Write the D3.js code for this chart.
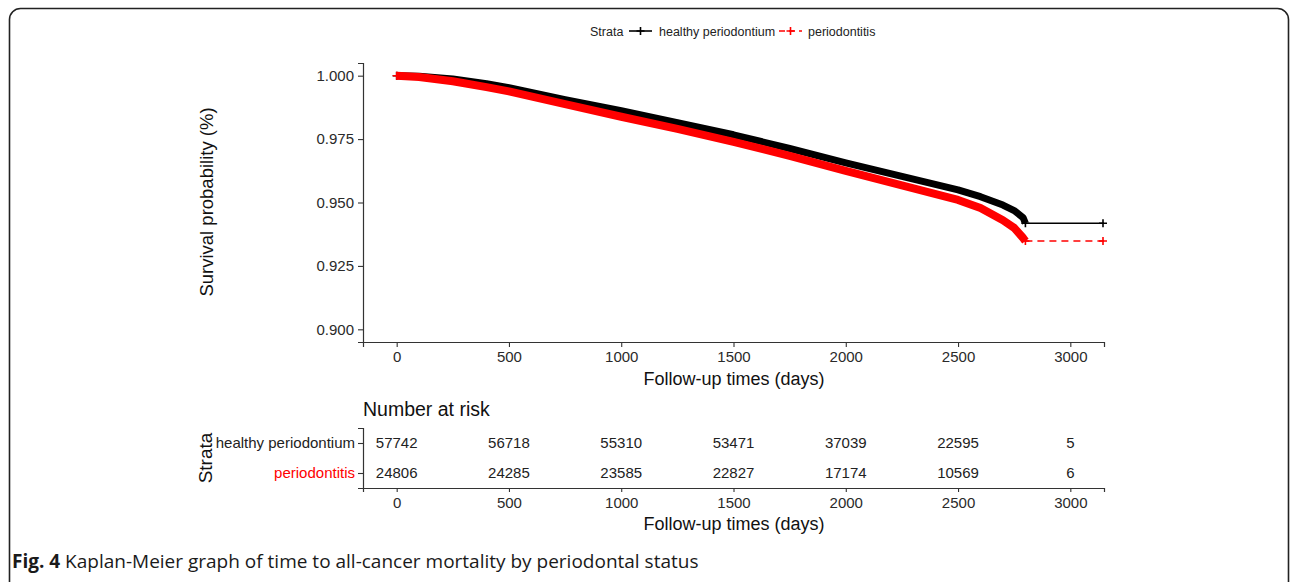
<!DOCTYPE html>
<html>
<head>
<meta charset="utf-8">
<script src="https://cdn.jsdelivr.net/npm/d3@7"></script>
<style>
  body { margin: 0; background: #fff; }
  svg text { font-family: "Liberation Sans", Arial, sans-serif; }
</style>
</head>
<body>
<svg id="chart" width="1292" height="582"></svg>
<script>
// survival curves (days, probability)
const healthyTimes = [0, 100, 250, 400, 500, 750, 1000, 1250, 1500, 1750, 2000, 2250, 2500, 2600, 2700, 2750, 2790, 2800]
const healthySurv  = [1.000, 0.9998, 0.9987, 0.9968, 0.9953, 0.9905, 0.9862, 0.9815, 0.9767, 0.9713, 0.9656, 0.9603, 0.9550, 0.9523, 0.9490, 0.9468, 0.9440, 0.9418]
const perioTimes   = [0, 100, 250, 400, 500, 750, 1000, 1250, 1500, 1750, 2000, 2250, 2500, 2600, 2700, 2750, 2790, 2800]
const perioSurv    = [1.000, 0.9995, 0.9978, 0.9955, 0.9938, 0.9888, 0.9838, 0.9790, 0.9739, 0.9684, 0.9625, 0.9568, 0.9510, 0.9478, 0.9430, 0.9400, 0.9360, 0.9348]
const lastTime = 3150

const strata = ["healthy periodontium", "periodontitis"]
const strataColors = ["#000000", "#ff0000"]
const xTicks = [0, 500, 1000, 1500, 2000, 2500, 3000]
const yTicks = [0.900, 0.925, 0.950, 0.975, 1.000]
const riskHealthy = [57742, 56718, 55310, 53471, 37039, 22595, 5]
const riskPerio   = [24806, 24285, 23585, 22827, 17174, 10569, 6]

const svg = d3.select("#chart")

// frame round the figure
svg.append("rect")
    .attr("x", 9.5).attr("y", 8.5)
    .attr("width", 1279).attr("height", 600)
    .attr("rx", 11)
    .attr("fill", "none").attr("stroke", "#222").attr("stroke-width", 1.6)

var xScale = d3.scaleLinear().domain([-150, 3150]).range([363, 1104])
var yScale = d3.scaleLinear().domain([0.895, 1.005]).range([342, 63])

function styleAxis(g) {
    g.select(".domain").attr("stroke", "#333").attr("stroke-width", 1.2)
    g.selectAll(".tick line").attr("stroke", "#333").attr("stroke-width", 1.1)
    g.selectAll(".tick text").attr("fill", "#2a2a2a").style("font-size", "15px")
}

// axes of main plot
const yAxis = svg.append("g").attr("transform", "translate(363,0)")
    .call(d3.axisLeft(yScale).tickValues(yTicks).tickFormat(d3.format(".3f")).tickSizeOuter(0).tickSize(5).tickPadding(4))
const xAxis = svg.append("g").attr("transform", "translate(0,342)")
    .call(d3.axisBottom(xScale).tickValues(xTicks).tickFormat(d3.format("d")).tickSizeOuter(0).tickSize(5).tickPadding(4))
styleAxis(yAxis)
styleAxis(xAxis)

svg.append("text")
    .attr("transform", "translate(213,202) rotate(-90)")
    .attr("text-anchor", "middle")
    .style("font-size", "18.5px").attr("fill", "#111")
    .text("Survival probability (%)")
svg.append("text")
    .attr("x", 734).attr("y", 385)
    .attr("text-anchor", "middle")
    .style("font-size", "18px").attr("fill", "#111")
    .text("Follow-up times (days)")

// curves
const bandLine = d3.line()
    .x(function(d) { return xScale(d[0]) })
    .y(function(d) { return yScale(d[1]) })

function plus(g, x, y, color, size) {
    g.append("path")
        .attr("d", "M" + (x - size) + "," + y + "H" + (x + size) + "M" + x + "," + (y - size) + "V" + (y + size))
        .attr("stroke", color).attr("stroke-width", 1.6)
}

const series = [
    {times: healthyTimes, surv: healthySurv, color: strataColors[0], band: 7, dash: null},
    {times: perioTimes, surv: perioSurv, color: strataColors[1], band: 8, dash: "7,5"}
]
series.forEach(function(s) {
    const pts = s.times.map(function(t, i) { return [t, s.surv[i]] })
    const g = svg.append("g")
    g.append("path")
        .attr("d", bandLine(pts))
        .attr("fill", "none")
        .attr("stroke", s.color)
        .attr("stroke-width", s.band)
        .attr("stroke-linejoin", "round")
        .attr("stroke-linecap", "butt")
    const last = pts[pts.length - 1]
    g.append("line")
        .attr("x1", xScale(last[0])).attr("x2", xScale(lastTime))
        .attr("y1", yScale(last[1])).attr("y2", yScale(last[1]))
        .attr("stroke", s.color).attr("stroke-width", 1.5)
        .attr("stroke-dasharray", s.dash)
    plus(g, xScale(last[0]), yScale(last[1]), s.color, 4)
    plus(g, xScale(lastTime) - 1, yScale(last[1]), s.color, 4)
    plus(g, xScale(0), yScale(1), s.color, 4)
})

// legend
const legend = svg.append("g").attr("transform", "translate(0,31)")
legend.append("text").attr("x", 590).attr("y", 4.5).style("font-size", "12.5px").attr("fill", "#222").text("Strata")
const legendX = [629, 779]
const legendTextX = [659, 808]
strata.forEach(function(name, i) {
    legend.append("line")
        .attr("x1", legendX[i]).attr("x2", legendX[i] + 23).attr("y1", 0).attr("y2", 0)
        .attr("stroke", strataColors[i]).attr("stroke-width", 1.6)
        .attr("stroke-dasharray", i === 1 ? "6,4" : null)
    plus(legend, legendX[i] + 11.5, 0, strataColors[i], 4)
    legend.append("text").attr("x", legendTextX[i]).attr("y", 4.5)
        .style("font-size", "12.5px").attr("fill", "#222").text(name)
})

// risk table
svg.append("text")
    .attr("x", 363).attr("y", 416)
    .style("font-size", "19.5px").attr("fill", "#111")
    .text("Number at risk")

var rowScale = d3.scalePoint().domain(strata).range([428, 488]).padding(0.5)
const rAxisY = svg.append("g").attr("transform", "translate(363,0)")
    .call(d3.axisLeft(rowScale).tickSizeOuter(0).tickSize(5).tickPadding(3))
const rAxisX = svg.append("g").attr("transform", "translate(0,488)")
    .call(d3.axisBottom(xScale).tickValues(xTicks).tickFormat(d3.format("d")).tickSizeOuter(0).tickSize(4).tickPadding(5))
styleAxis(rAxisY)
styleAxis(rAxisX)
rAxisY.selectAll(".tick text").attr("fill", function(d, i) { return i === 1 ? "#ff0000" : "#222" })

const riskRows = [riskHealthy, riskPerio]
riskRows.forEach(function(row, r) {
    svg.append("g").selectAll("text")
        .data(row)
        .enter()
        .append("text")
        .attr("x", function(d, i) { return xScale(xTicks[i]) })
        .attr("y", rowScale(strata[r]))
        .attr("dy", "0.35em")
        .attr("text-anchor", "middle")
        .style("font-size", "15px").attr("fill", "#222")
        .text(function(d) { return d })
})

svg.append("text")
    .attr("transform", "translate(212,458) rotate(-90)")
    .attr("text-anchor", "middle")
    .style("font-size", "19px").attr("fill", "#111")
    .text("Strata")
svg.append("text")
    .attr("x", 734).attr("y", 530)
    .attr("text-anchor", "middle")
    .style("font-size", "18px").attr("fill", "#111")
    .text("Follow-up times (days)")

// caption
const cap = svg.append("text").attr("x", 12).attr("y", 568)
    .style("font-family", "'Open Sans', sans-serif").style("font-size", "19px").attr("fill", "#1a1a1a")
cap.append("tspan").style("font-weight", "bold").style("font-family", "'Open Sans', sans-serif").text("Fig. 4")
cap.append("tspan").style("font-family", "'Open Sans', sans-serif").text(" Kaplan-Meier graph of time to all-cancer mortality by periodontal status")
</script>
</body>
</html>
